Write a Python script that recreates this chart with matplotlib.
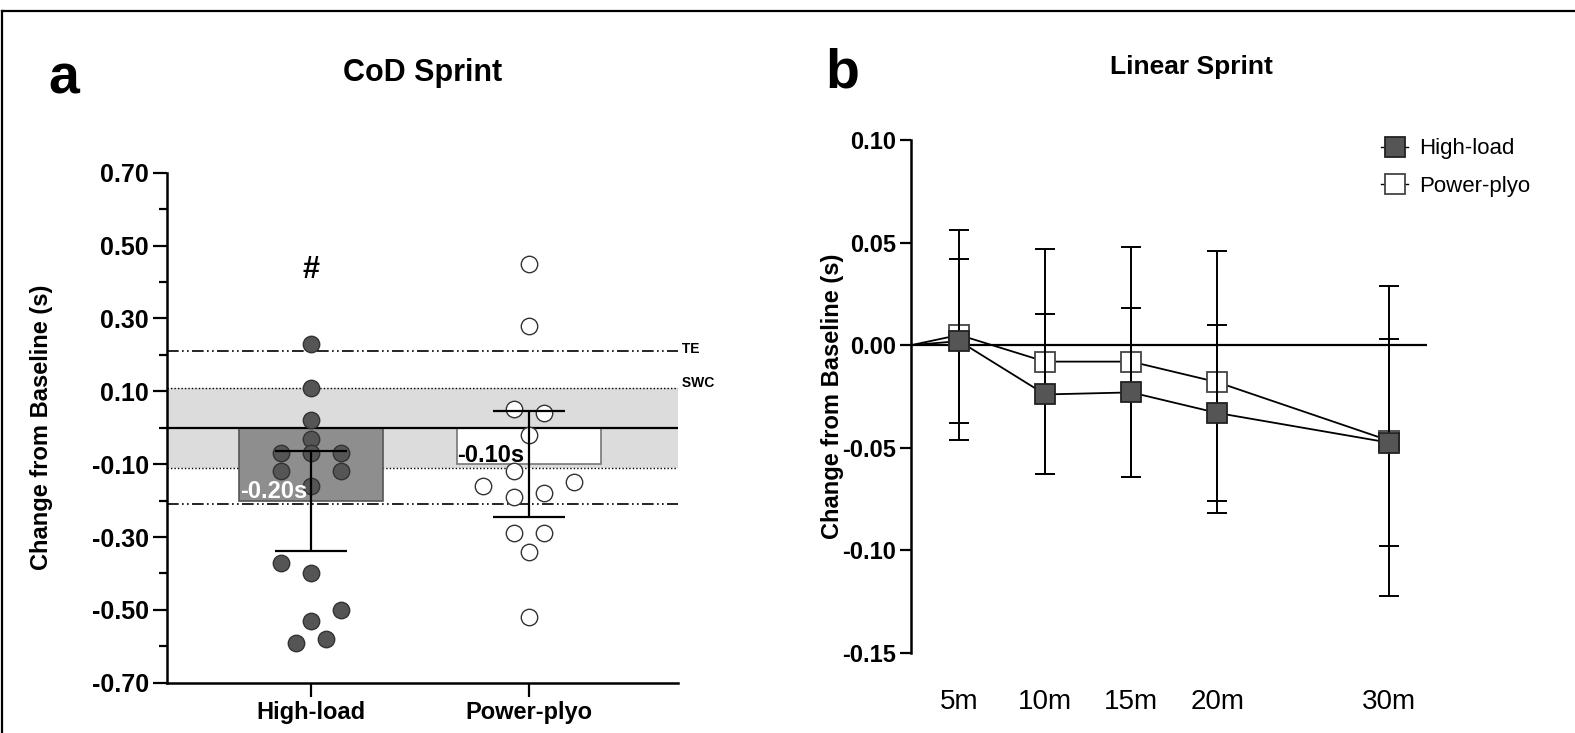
import numpy as np
import matplotlib
matplotlib.use("Agg")
import matplotlib.pyplot as plt
from matplotlib.lines import Line2D
from matplotlib.ticker import FixedLocator, MultipleLocator, FormatStrFormatter

plt.rcParams['font.family'] = ['Liberation Sans', 'DejaVu Sans']
plt.rcParams['axes.unicode_minus'] = False

# ---- panel a: CoD sprint ----
groups = ["High-load", "Power-plyo"]
bar_means = [-0.20, -0.10]
bar_errs = [0.137, 0.145]
bar_labels = ["-0.20s", "-0.10s"]

hl_vals = [0.23, 0.11, 0.02, -0.03, -0.07, -0.07, -0.07, -0.12, -0.12, -0.16,
           -0.37, -0.40, -0.50, -0.53, -0.58, -0.59]
hl_cols = [0, 0, 0, 0, -2, 0, 2, -2, 2, 0, -2, 0, 2, 0, 1, -1]
pp_vals = [0.45, 0.28, 0.05, 0.04, -0.02, -0.12, -0.15, -0.16, -0.18, -0.19,
           -0.29, -0.29, -0.34, -0.52]
pp_cols = [0, 0, -1, 1, 0, -1, 3, -3, 1, -1, -1, 1, 0, 0]

swc = 0.11
te = 0.21

# ---- panel b: linear sprint ----
distances = [5, 10, 15, 20, 30]
dist_labels = ["5m", "10m", "15m", "20m", "30m"]
hl_mean = [0.002, -0.024, -0.023, -0.033, -0.0475]
hl_err = [0.040, 0.039, 0.041, 0.043, 0.0505]
pp_mean = [0.005, -0.008, -0.008, -0.018, -0.0465]
pp_err = [0.051, 0.055, 0.056, 0.064, 0.0755]

dark = "#555555"
bar_grey = "#8e8e8e"
band_grey = "#dcdcdc"

fig = plt.figure(figsize=(15.75, 7.33), dpi=100)

# ------------------------------------------------------------ panel a
ax = fig.add_axes([167 / 1575, 0.0685, 511 / 1575, 0.696])
x = np.arange(len(groups))
step = 0.0693

ax.axhspan(-swc, swc, color=band_grey, lw=0, zorder=0)
for s in (-swc, swc):
    ax.axhline(s, color="black", lw=1.0, ls=(0, (1, 1.5)), zorder=1)
for t in (-te, te):
    ax.axhline(t, color="black", lw=1.2, ls=(0, (7, 2, 1, 2, 1, 2)), zorder=1)

ax.bar(x, bar_means, width=0.664, color=[bar_grey, "white"],
       edgecolor=["#555555", "#777777"], lw=1.2, zorder=2)
ax.axhline(0, color="black", lw=1.6, zorder=3)

ax.scatter(x[0] + np.array(hl_cols) * step, hl_vals, s=140, color=dark,
           edgecolor="#333333", lw=1.0, zorder=4)
ax.scatter(x[1] + np.array(pp_cols) * step, pp_vals, s=140, color="white",
           edgecolor="#333333", lw=1.0, zorder=4)

ax.errorbar(x, bar_means, yerr=bar_errs, fmt="none", ecolor="black",
            elinewidth=1.6, capsize=26, capthick=1.6, zorder=5)

for xi, m, lab, col in zip(x, bar_means, bar_labels, ["white", "black"]):
    ax.text(xi - 0.332 + 0.005, m + 0.025, lab, color=col, fontsize=17,
            fontweight="bold", ha="left", va="center", zorder=6)

ax.text(x[0], 0.433, "#", fontsize=22, fontweight="bold", ha="center",
        va="center")
ax.text(1.0, te + 0.005, " TE", transform=ax.get_yaxis_transform(),
        fontsize=10, fontweight="bold", ha="left", va="center")
ax.text(1.0, swc + 0.012, " SWC", transform=ax.get_yaxis_transform(),
        fontsize=10, fontweight="bold", ha="left", va="center")

ax.set_xlim(-0.664, 1.687)
ax.set_ylim(-0.70, 0.70)
ax.yaxis.set_major_locator(FixedLocator(np.round(np.arange(-0.7, 0.71, 0.2), 2)))
ax.yaxis.set_minor_locator(MultipleLocator(0.1))
ax.yaxis.set_major_formatter(FormatStrFormatter("%.2f"))
ax.set_xticks(x)
ax.set_xticklabels(groups, fontsize=17, fontweight="bold")
for lab in ax.get_yticklabels():
    lab.set_fontsize(18)
    lab.set_fontweight("bold")
ax.tick_params(axis="both", which="major", length=10, width=1.6, pad=3)
ax.tick_params(axis="y", which="minor", length=6, width=1.6)
for side in ("top", "right"):
    ax.spines[side].set_visible(False)
for side in ("left", "bottom"):
    ax.spines[side].set_linewidth(1.8)
ax.set_ylabel("Change from Baseline (s)", fontsize=17, fontweight="bold")
ax.yaxis.set_label_coords(-0.223, 0.5)

# ------------------------------------------------------------ panel b
bx = fig.add_axes([911 / 1575, 80 / 733, 516 / 1575, 513 / 733])
xmin, xmax = 2.2, 32.2
bx.axhline(0, color="black", lw=1.6, zorder=1)

for mean, err, face, edge, z in [(pp_mean, pp_err, "white", "#444444", 2),
                                 (hl_mean, hl_err, dark, "#222222", 4)]:
    bx.errorbar(distances, mean, yerr=err, fmt="none", ecolor="black",
                elinewidth=1.4, capsize=7, capthick=1.4, zorder=z)
    bx.plot([xmin] + distances, [0] + mean, color="black", lw=1.3, zorder=z + 1)
    bx.plot(distances, mean, ls="none", marker="s", ms=14, mfc=face, mec=edge,
            mew=1.3, zorder=z + 1)

bx.set_xlim(xmin, xmax)
bx.set_ylim(-0.15, 0.10)
bx.set_yticks(np.round(np.arange(-0.15, 0.101, 0.05), 2))
bx.yaxis.set_major_formatter(FormatStrFormatter("%.2f"))
for lab in bx.get_yticklabels():
    lab.set_fontsize(17)
    lab.set_fontweight("bold")
bx.set_xticks(distances)
bx.set_xticklabels(dist_labels, fontsize=20)
bx.tick_params(axis="x", length=0, pad=26)
bx.tick_params(axis="y", length=8, width=1.6, pad=3)
for side in ("top", "right", "bottom"):
    bx.spines[side].set_visible(False)
bx.spines["left"].set_linewidth(1.8)
bx.set_ylabel("Change from Baseline (s)", fontsize=17, fontweight="bold")
bx.yaxis.set_label_coords(-0.130, 0.5)

handles = [Line2D([], [], color="black", lw=1.0, marker="s", ms=14, mfc=dark,
                  mec="#222222", mew=1.3),
           Line2D([], [], color="black", lw=1.0, marker="s", ms=14, mfc="white",
                  mec="#444444", mew=1.3)]
fig.legend(handles, ["High-load", "Power-plyo"], loc="upper left",
           bbox_to_anchor=(1377 / 1575, 1 - 134 / 733), frameon=False,
           fontsize=16, handlelength=1.2, handletextpad=0.5, labelspacing=0.75,
           borderaxespad=0, borderpad=0.2)

# ------------------------------------------------------------ labels / frame
fig.text(64 / 1575, 1 - 80 / 733, "a", fontsize=40, fontweight="bold",
         ha="center", va="center")
fig.text(842 / 1575, 1 - 74 / 733, "b", fontsize=40, fontweight="bold",
         ha="center", va="center")
fig.text(423 / 1575, 1 - 73 / 733, "CoD Sprint", fontsize=22,
         fontweight="bold", ha="center", va="center")
fig.text(1191 / 1575, 1 - 67 / 733, "Linear Sprint", fontsize=19,
         fontweight="bold", ha="center", va="center")

fig.add_artist(Line2D([2 / 1575, 1.0], [1 - 11 / 733] * 2, color="black",
                      lw=1.6, transform=fig.transFigure))
fig.add_artist(Line2D([2 / 1575] * 2, [0, 1 - 11 / 733], color="black",
                      lw=1.6, transform=fig.transFigure))

fig.savefig("out.png", dpi=100, facecolor="white")
